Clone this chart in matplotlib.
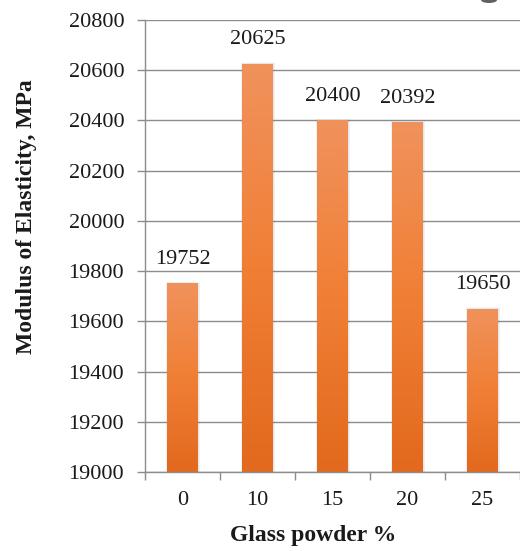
import numpy as np
import matplotlib
matplotlib.use("Agg")
import matplotlib.pyplot as plt
from matplotlib.colors import LinearSegmentedColormap
from matplotlib.patches import Rectangle, Ellipse

categories = ["0", "10", "15", "20", "25"]
modulus = [19752, 20625, 20400, 20392, 19650]
y_ticks = [19000, 19200, 19400, 19600, 19800, 20000, 20200, 20400, 20600, 20800]

plt.rcParams["font.family"] = ["Liberation Serif", "DejaVu Serif"]

fig = plt.figure(figsize=(5.2, 5.51), dpi=100)
ax = fig.add_axes([145 / 520, 79 / 551, 375 / 520, 452 / 551])

ymin, ymax = 19000, 20800
ax.set_ylim(ymin, ymax)
ax.set_xlim(-0.5, len(categories) - 0.5)

grid_c = "#8c8c8c"
txt_c = "#1a1a1a"
for t in y_ticks:
    ax.axhline(t, color=grid_c, lw=1.0, zorder=0)

cmap = LinearSegmentedColormap.from_list("bar", ["#e2691d", "#f07f35", "#f0925c"])
grad = np.linspace(0, 1, 256).reshape(-1, 1)
width = 0.41

for i, v in enumerate(modulus):
    # soft shadow around the bar
    for k, a in enumerate([0.03, 0.04, 0.05]):
        pad = 0.05 - k * 0.015
        ax.add_patch(Rectangle((i - width / 2 - pad * 0.5 + 0.008, ymin),
                               width + pad, v - ymin + 6 - k * 2,
                               facecolor="#444444", alpha=a, lw=0, zorder=1))
    bar = ax.bar(i, v - ymin, bottom=ymin, width=width, color="none", lw=0, zorder=2)[0]
    im = ax.imshow(grad, cmap=cmap, aspect="auto", origin="lower",
                   extent=[i - width / 2, i + width / 2, ymin, v], zorder=2)
    im.set_clip_path(bar)
    ax.text(i, v + 58, f"{v}", ha="center", va="bottom", fontsize=16, color=txt_c)

ax.set_xlim(-0.5, len(categories) - 0.5)
ax.set_ylim(ymin, ymax)

ax.set_yticks(y_ticks)
ax.set_yticklabels([str(t) for t in y_ticks], fontsize=16, color=txt_c)
ax.set_xticks(range(len(categories)))
ax.set_xticklabels(categories, fontsize=16, color=txt_c)
ax.set_xticks(np.arange(-0.5, len(categories), 1.0), minor=True)
ax.tick_params(axis="x", which="major", length=0, pad=14)
ax.tick_params(axis="x", which="minor", length=6, color=grid_c, width=1)
ax.tick_params(axis="y", length=6, color=grid_c, width=1, pad=9)

for s in ["top", "right"]:
    ax.spines[s].set_visible(False)
for s in ["left", "bottom"]:
    ax.spines[s].set_color(grid_c)
    ax.spines[s].set_linewidth(1.0)

ax.set_xlabel("Glass powder %", fontsize=17, fontweight="bold", color=txt_c)
ax.set_ylabel("Modulus of Elasticity, MPa", fontsize=17, fontweight="bold", color=txt_c)
ax.xaxis.set_label_coords((313 - 145) / 375, (472 - 535) / 452)
ax.yaxis.set_label_coords((27 - 145) / 375, (472 - 217) / 452)
ax.xaxis.label.set_va("center")
ax.yaxis.label.set_va("center")

# small dark mark at the top edge
fig.patches.append(Ellipse((489 / 520, 1.0), 16 / 520, 6 / 551, transform=fig.transFigure,
                           facecolor="#3a3a3a", edgecolor="none", alpha=0.8))

fig.savefig("out.png", dpi=100)
